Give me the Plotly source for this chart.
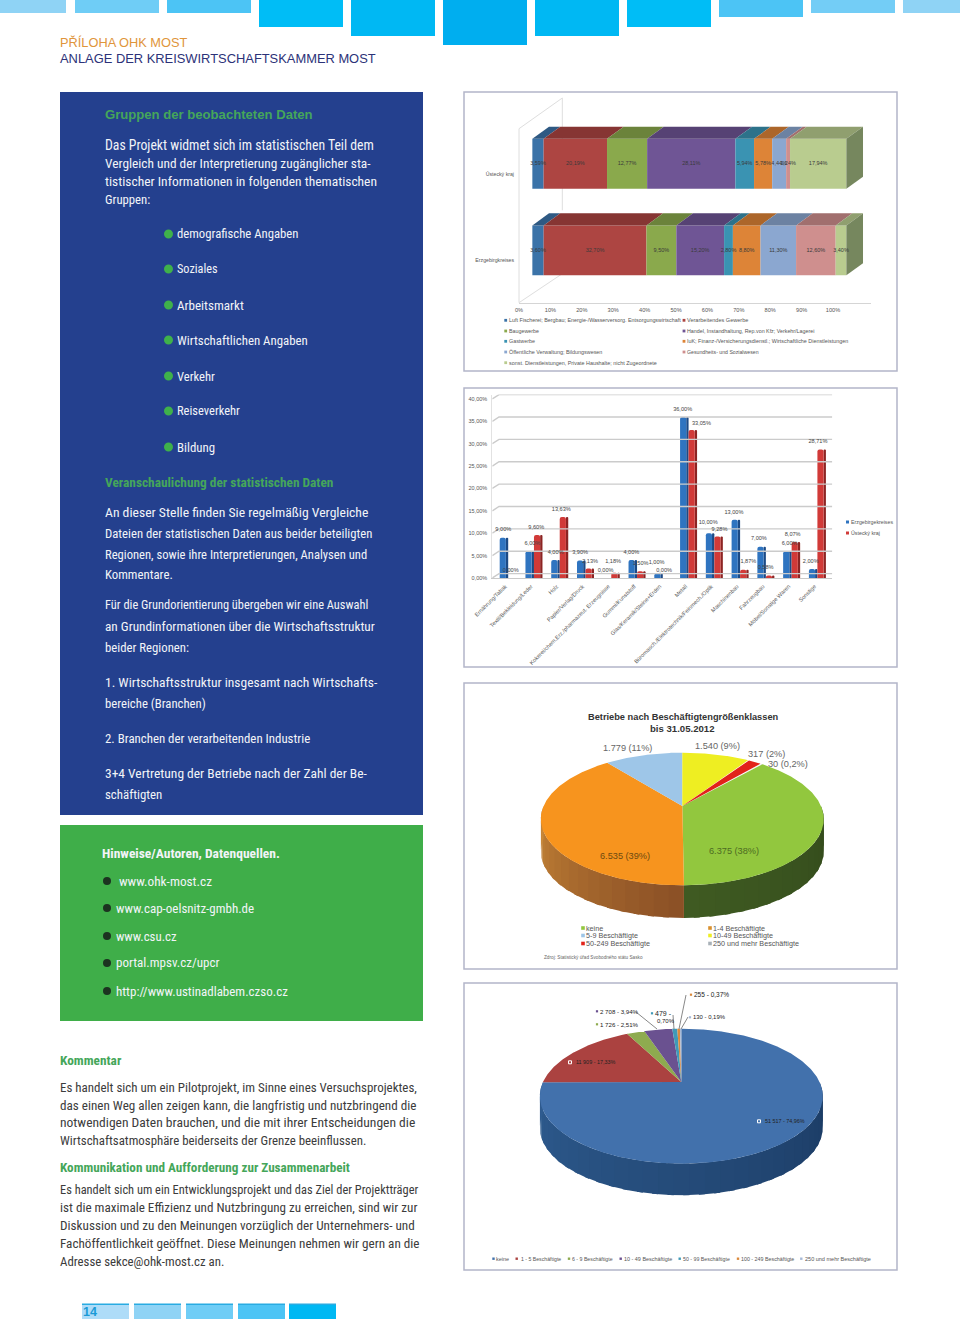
"""Seite 14: Anlage der Kreiswirtschaftskammer Most, Text und vier Diagramme"""

import numpy as np
import plotly.graph_objects as go

W, H = 960, 1320

# ── Daten ─────────────────────────────────────────────────────────────

BRANCHEN = [
    "Luft Fischerei; Bergbau; Energie-/Wasserversorg. Entsorgungswirtschaft",
    "Verarbeitendes Gewerbe",
    "Baugewerbe",
    "Handel, Instandhaltung, Rep.von Kfz; Verkehr/Lagerei",
    "Gastwerbe",
    "IuK; Finanz-/Versicherungsdienstl.; Wirtschaftliche Dienstleistungen",
    "Öffentliche Verwaltung; Bildungswesen",
    "Gesundheits- und Sozialwesen",
    "sonst. Dienstleistungen, Private Haushalte; nicht Zugeordnete",
]
BRANCHEN_FARBEN = ["#3b73a8", "#ad4542", "#8aa94c", "#6f5595", "#3a93b2",
                   "#dd8437", "#8ba7d0", "#cf8f8e", "#b9cc8f"]
USTI_BRANCHEN = [3.59, 20.19, 12.77, 28.11, 5.94, 5.78, 4.44, 1.24, 17.94]
ERZ_BRANCHEN = [3.60, 32.70, 9.50, 15.20, 2.80, 8.80, 11.30, 12.60, 3.40]
ZEILEN = ["Erzgebirgkreises", "Ústecký kraj"]
ACHSE_PROZENT = [0, 10, 20, 30, 40, 50, 60, 70, 80, 90, 100]

INDUSTRIE = [
    "Ernährung/Tabak", "Textil/Bekleidung/Leder", "Holz", "Papier/Verlag/Druck",
    "Kokerei/chem.Erz./pharmazeut. Erzeugnisse", "Gummi/Kunststoff",
    "Glas/Keramik/Steine+Erden", "Metall",
    "Büromasch./Elektrotechnik/Feinmech./Optik", "Maschinenbau", "Fahrzeugbau",
    "Möbel/Sonstige Waren", "Sonstige",
]
ERZ_INDUSTRIE = [9.00, 6.00, 4.00, 3.90, 0.00, 4.00, 1.00, 36.00, 10.00, 13.00, 7.00, 6.00, 2.00]
USTI_INDUSTRIE = [0.00, 9.60, 13.63, 2.13, 1.18, 1.50, 0.00, 33.05, 9.28, 1.87, 0.58, 8.07, 28.71]
ACHSE_INDUSTRIE = [0, 5, 10, 15, 20, 25, 30, 35, 40]

KLASSEN_SN = ["keine", "1-4 Beschäftigte", "5-9 Beschäftigte", "10-49 Beschäftigte",
              "50-249 Beschäftigte", "250 und mehr Beschäftigte"]
BETRIEBE_SN = [6375, 6535, 1779, 1540, 317, 30]
ANTEIL_SN = ["38%", "39%", "11%", "9%", "2%", "0,2%"]
FARBEN_SN = ["#92c73e", "#f7941e", "#9ec6e8", "#eeee22", "#e2231a", "#a9b1b8"]

KLASSEN_UK = ["keine", "1 - 5 Beschäftigte", "6 - 9 Beschäftigte", "10 - 49 Beschäftigte",
              "50 - 99 Beschäftigte", "100 - 249 Beschäftigte", "250 und mehr Beschäftigte"]
BETRIEBE_UK = [51517, 11909, 1726, 2708, 479, 255, 130]
ANTEIL_UK = ["74,96%", "17,33%", "2,51%", "3,94%", "0,70%", "0,37%", "0,19%"]
FARBEN_UK = ["#4271ac", "#ab4240", "#8eab4f", "#6a5190", "#3f9ab8", "#dc8a3c", "#a5b8d6"]

# ── Hilfsfunktionen ───────────────────────────────────────────────────

NARROW = "Roboto Condensed, DejaVu Sans Condensed, Roboto"
SANS = "Liberation Sans"
WEISS = "#f2f4f8"

EM = dict(zip("abcdefghijklmnopqrstuvwxyz",
              [556, 556, 500, 556, 556, 278, 556, 556, 222, 222, 500, 222, 833,
               556, 556, 556, 556, 333, 500, 278, 556, 500, 722, 500, 500, 500]))
EM.update(zip("ABCDEFGHIJKLMNOPQRSTUVWXYZ",
              [667, 667, 722, 722, 667, 611, 778, 722, 278, 500, 667, 556, 833,
               722, 778, 667, 778, 722, 667, 611, 722, 667, 944, 667, 667, 611]))
EM.update({" ": 278, ".": 278, ",": 278, ":": 278, ";": 278, "-": 333, "/": 278, "ä": 556,
           "ö": 556, "ü": 556, "ß": 611, "Ö": 778, "Ü": 722, "Ú": 722, "(": 333, ")": 333,
           "ý": 500, "Ř": 722, "Í": 278, "ř": 333, "ú": 556, "á": 556, "é": 556, "@": 1015})

shapes, annotations, traces, axes = [], [], [], {}


def fx(x):
    return x / W


def fy(y):
    return 1 - y / H


def rect(x0, y0, x1, y1, color, line=None, width=0):
    shapes.append(dict(type="rect", xref="paper", yref="paper", layer="below",
                       x0=fx(x0), x1=fx(x1), y0=fy(y1), y1=fy(y0), fillcolor=color,
                       line=dict(color=line, width=width)))


def segment(x0, y0, x1, y1, color, width=1.0, layer="below"):
    shapes.append(dict(type="line", xref="paper", yref="paper", layer=layer,
                       x0=fx(x0), x1=fx(x1), y0=fy(y0), y1=fy(y1),
                       line=dict(color=color, width=width)))


def punkt(x, y, r, color):
    shapes.append(dict(type="circle", xref="paper", yref="paper", layer="above",
                       x0=fx(x - r), x1=fx(x + r), y0=fy(y + r), y1=fy(y - r),
                       fillcolor=color, line=dict(width=0)))


def swatch(x, y, s, color, line=None):
    shapes.append(dict(type="rect", xref="paper", yref="paper", layer="above",
                       x0=fx(x - s), x1=fx(x + s), y0=fy(y + s), y1=fy(y - s),
                       fillcolor=color, line=dict(color=line, width=1 if line else 0)))


def txt(s, x, y, size, color, family=SANS, weight=400, anchor="left"):
    annotations.append(dict(text=s, x=fx(x), y=fy(y), xref="paper", yref="paper",
                            xanchor=anchor, yanchor="middle", showarrow=False,
                            borderpad=0, borderwidth=0,
                            font=dict(size=size, color=color, family=family, weight=weight)))


def fit(s, x0, x1, y, color, family=NARROW, weight=400, factor=0.885):
    """Schriftgröße so wählen, dass die Zeile die Breite x0..x1 füllt"""
    em = sum(EM.get(c, 556) for c in s) / 1000 * factor
    txt(s, x0, y, round((x1 - x0) / em, 2), color, family, weight)


def achsen(n, px_x, px_y, xopts=None, yopts=None):
    base = dict(showgrid=False, zeroline=False, showticklabels=False, ticks="")
    axes[f"xaxis{n}"] = dict(base, domain=[fx(px_x[0]), fx(px_x[1])], anchor=f"y{n}", **(xopts or {}))
    axes[f"yaxis{n}"] = dict(base, domain=[fy(px_y[1]), fy(px_y[0])], anchor=f"x{n}", **(yopts or {}))


def flaeche(n, xs, ys, color):
    traces.append(go.Scatter(x=xs, y=ys, mode="lines", fill="toself", fillcolor=color,
                             line=dict(width=0), hoverinfo="skip", showlegend=False,
                             xaxis=f"x{n}", yaxis=f"y{n}"))


def dunkler(color, f):
    rgb = [int(color[i:i + 2], 16) for i in (1, 3, 5)]
    return "#%02x%02x%02x" % tuple(int(c * f) for c in rgb)


def mischen(a, b, t):
    ra = np.array([int(a[i:i + 2], 16) for i in (1, 3, 5)])
    rb = np.array([int(b[i:i + 2], 16) for i in (1, 3, 5)])
    return "#%02x%02x%02x" % tuple(int(c) for c in ra + (rb - ra) * t)


def prozent(v):
    return f"{v:.2f}%".replace(".", ",")


def projekt(theta_deg, k):
    """Kreispunkt in die perspektivische Tortenebene abbilden"""
    t = np.radians(theta_deg)
    s = 1 / (1 + k * np.cos(t))
    return np.sin(t) * s, np.cos(t) * s


def torte(n, werte, farben, k, tiefe, start, seite):
    """3D-Torte aus Flächen; seite: Farbpaare je Segment für den sichtbaren Rand"""
    kanten = start + np.concatenate([[0], np.cumsum(werte)]) / sum(werte) * 360
    for a, b, paar in zip(kanten[:-1], kanten[1:], seite):
        # sichtbarer Rand liegt zwischen 90 und 270 Grad
        lo, hi = max(a, 90), min(b, 270)
        if paar is None or hi <= lo:
            continue
        schritte = np.linspace(lo, hi, max(2, int((hi - lo) / 5) + 1))
        for i, (t0, t1) in enumerate(zip(schritte[:-1], schritte[1:])):
            # Streifen überlappen, damit keine Nähte sichtbar sind
            th = np.linspace(t0, min(t1 + 2, hi), 5)
            x, y = projekt(th, k)
            flaeche(n, np.r_[x, x[::-1]], np.r_[y, y[::-1] - tiefe],
                    mischen(paar[0], paar[1], i / max(1, len(schritte) - 2)))
    for a, b, c in zip(kanten[:-1], kanten[1:], farben):
        th = np.arange(a, b + 0.5, 0.5)
        x, y = projekt(np.r_[th, b], k)
        flaeche(n, np.r_[0, x, 0], np.r_[0, y, 0], c)


# ── Seitenrahmen ──────────────────────────────────────────────────────

KOPF_X = [(0, 66), (75, 159), (167, 251), (259, 343), (351, 435), (443, 527),
          (535, 619), (627, 711), (719, 803), (811, 895), (903, 960)]
KOPF_H = [13, 13, 13, 27, 36, 45, 36, 27, 17, 13, 13]
KOPF_F = ["#8fd3f5", "#6fcdf6", "#4cc4f5", "#00bdf6", "#00b8f3", "#00aeef",
          "#00b8f3", "#00bdf6", "#4cc4f5", "#73cdf6", "#8fd3f5"]
for (a, b), h, c in zip(KOPF_X, KOPF_H, KOPF_F):
    rect(a, 0, b, h, c)

for (a, b), c in zip([(82, 129), (134, 181), (186, 233), (238, 285), (289, 336)],
                     ["#aedcf8", "#8fd3f5", "#6fcdf6", "#4cc4f5", "#00b8f3"]):
    rect(a, 1304, b, 1319, c)
    rect(a, 1303.5, b, 1305, "#29abe2")
txt("14", 83, 1312, 12.5, "#1b9ad6", SANS, 700)

fit("PŘÍLOHA OHK MOST", 60, 188, 42, "#e0953b", SANS, factor=1.0)
fit("ANLAGE DER KREISWIRTSCHAFTSKAMMER MOST", 60, 376, 58, "#2c3278", SANS, factor=1.0)

rect(60, 92, 423, 815, "#24408e")
rect(60, 825, 423, 1021, "#3fae49")

for oben, unten in [(92, 371), (388, 667), (683, 969), (983, 1270)]:
    rect(464, oben, 897, unten, "#ffffff", "#b3b5c9", 1.5)

# ── Text links ────────────────────────────────────────────────────────

GRUEN = "#45a65a"
fit("Gruppen der beobachteten Daten", 105, 312, 114, GRUEN, SANS, 700, 1.06)
for s, y, x1 in [("Das Projekt widmet sich im statistischen Teil dem", 145, 371),
                 ("Vergleich und der Interpretierung zugänglicher sta-", 163, 371),
                 ("tistischer Informationen in folgenden thematischen", 181, 371),
                 ("Gruppen:", 199, 152),
                 ("An dieser Stelle finden Sie regelmäßig Vergleiche", 512, 371),
                 ("Dateien der statistischen Daten aus beider beteiligten", 533, 371),
                 ("Regionen, sowie ihre Interpretierungen, Analysen und", 554, 371),
                 ("Kommentare.", 575, 173),
                 ("Für die Grundorientierung übergeben wir eine Auswahl", 605, 371),
                 ("an Grundinformationen über die Wirtschaftsstruktur", 626, 371),
                 ("beider Regionen:", 647, 191),
                 ("1. Wirtschaftsstruktur insgesamt nach Wirtschafts-", 682, 371),
                 ("bereiche (Branchen)", 703, 207),
                 ("2. Branchen der verarbeitenden Industrie", 738, 312),
                 ("3+4 Vertretung der Betriebe nach der Zahl der Be-", 773, 371),
                 ("schäftigten", 794, 160)]:
    fit(s, 105, x1, y, WEISS)
fit("Veranschaulichung der statistischen Daten", 105, 329, 482, GRUEN, NARROW, 700)

for s, y, x1 in [("demografische Angaben", 234, 299), ("Soziales", 269, 218),
                 ("Arbeitsmarkt", 305, 242), ("Wirtschaftlichen Angaben", 340, 306),
                 ("Verkehr", 376, 216), ("Reiseverkehr", 411, 242), ("Bildung", 447, 215)]:
    punkt(168.5, y, 4.5, "#3fb14b")
    fit(s, 177, x1, y, WEISS)

fit("Hinweise/Autoren, Datenquellen.", 102, 276, 853, WEISS, NARROW, 700)
for s, y, x0, x1 in [("www.ohk-most.cz", 881, 119, 211),
                     ("www.cap-oelsnitz-gmbh.de", 908, 116, 254),
                     ("www.csu.cz", 936, 116, 176),
                     ("portal.mpsv.cz/upcr", 963, 116, 216),
                     ("http://www.ustinadlabem.czso.cz", 991, 116, 283)]:
    punkt(107, y, 4, "#1c3320")
    fit(s, x0, x1, y, WEISS)

GRAU = "#3c3c3c"
fit("Kommentar", 60, 121, 1060, GRUEN, NARROW, 700)
fit("Kommunikation und Aufforderung zur Zusammenarbeit", 60, 344, 1167, GRUEN, NARROW, 700)
for s, y, x1 in [("Es handelt sich um ein Pilotprojekt, im Sinne eines Versuchsprojektes,", 1087, 418),
                 ("das einen Weg allen zeigen kann, die langfristig und nutzbringend die", 1105, 418),
                 ("notwendigen Daten brauchen, und die mit ihrer Entscheidungen die", 1122, 418),
                 ("Wirtschaftsatmosphäre beiderseits der Grenze beeinflussen.", 1140, 365),
                 ("Es handelt sich um ein Entwicklungsprojekt und das Ziel der Projektträger", 1189, 418),
                 ("ist die maximale Effizienz und Nutzbringung zu erreichen, sind wir zur", 1207, 418),
                 ("Diskussion und zu den Meinungen vorzüglich der Unternehmers- und", 1225, 418),
                 ("Fachöffentlichkeit geöffnet. Diese Meinungen nehmen wir gern an die", 1243, 418),
                 ("Adresse sekce@ohk-most.cz an.", 1261, 226)]:
    fit(s, 60, x1, y, GRAU)

# ── Diagramm 1: gestapelte Balken ─────────────────────────────────────

KLEIN = "#555555"
achsen(1, (519, 870.7), (95, 302.7),
       dict(range=[0, 112], showline=True, linecolor="#d5d5d5", linewidth=1, showticklabels=True,
            tickmode="array", tickvals=ACHSE_PROZENT, ticktext=[f"{t}%" for t in ACHSE_PROZENT],
            ticklabelstandoff=2, tickfont=dict(size=5.6, color=KLEIN, family=SANS)),
       dict(range=[-0.49, 1.91], showticklabels=True, tickmode="array", tickvals=[0, 1], ticktext=ZEILEN,
            ticklabelstandoff=4, tickfont=dict(size=5.2, color=KLEIN, family=SANS)))

for a, b, c, d in [(519, 302.7, 519, 128.7), (519, 128.7, 562.3, 98), (562.3, 98, 562.3, 210.3),
                   (519, 302.7, 562.3, 273.7)]:
    segment(a, b, c, d, "#dedede", 1)

DX, DY, VX, VY, DICKE = 5.3, 0.139, 4.25, 0.115, 0.577
for zeile, werte in enumerate([ERZ_BRANCHEN, USTI_BRANCHEN]):
    anteile = np.array(werte) / sum(werte) * 100
    starts = VX + np.concatenate([[0], np.cumsum(anteile)[:-1]])
    mitte = zeile + VY
    oben = mitte + DICKE / 2
    for s, a, c in zip(starts, anteile, BRANCHEN_FARBEN):
        flaeche(1, [s, s + a, s + a + DX, s + DX], [oben, oben, oben + DY, oben + DY], dunkler(c, 0.78))
    ende = starts[-1] + anteile[-1]
    flaeche(1, [ende, ende + DX, ende + DX, ende], [oben, oben + DY, oben + DY - DICKE, oben - DICKE],
            "#76875e")
    for s, a, c in zip(starts, anteile, BRANCHEN_FARBEN):
        traces.append(go.Bar(x=[a], y=[mitte], base=[s], width=DICKE, orientation="h", marker_color=c,
                             marker_line_width=0, showlegend=False, xaxis="x1", yaxis="y1"))
    traces.append(go.Scatter(x=starts + anteile / 2, y=[mitte] * len(werte), mode="text",
                             text=[prozent(v) for v in werte], showlegend=False,
                             textfont=dict(size=5.5, color="#3a3a3a", family=SANS),
                             xaxis="x1", yaxis="y1"))

LEGENDE_1 = [(505.7, 320.3, 509, 681), (684, 320.3, 687.3, 749), (505.7, 331, 509, 539),
             (684, 331, 687.3, 815), (505.7, 341.3, 509, 535), (684, 341.3, 687.3, 849),
             (505.7, 352, 509, 603), (684, 352, 687.3, 759), (505.7, 362.7, 509, 657)]
for s, c, (mx, y, x0, x1) in zip(BRANCHEN, BRANCHEN_FARBEN, LEGENDE_1):
    swatch(mx, y, 1.4, c)
    fit(s, x0, x1, y, KLEIN, SANS, factor=1.0)

# ── Diagramm 2: Säulen nach Branchen ──────────────────────────────────

PX_PRO_PROZENT = 4.475
achsen(2, (492.3, 832.3), (578 - 41 * PX_PRO_PROZENT, 578),
       dict(range=[-0.617, 12.578], showline=True, linecolor="#c9c9c9", linewidth=1, showticklabels=True,
            tickmode="array", tickvals=list(range(len(INDUSTRIE))), ticktext=INDUSTRIE, tickangle=-45,
            ticklabelstandoff=2, ticklabelshift=-3, tickfont=dict(size=5.6, color=KLEIN, family=SANS)),
       dict(range=[0, 41], showticklabels=True, tickmode="array", tickvals=ACHSE_INDUSTRIE,
            ticktext=[prozent(t) for t in ACHSE_INDUSTRIE], showline=True, linecolor="#e2e2e2", linewidth=1,
            ticklabelstandoff=3, tickfont=dict(size=5.5, color=KLEIN, family=SANS)))

gx, gy = [], []
for t in ACHSE_INDUSTRIE:
    gx += [-0.617, -0.357, 12.578, None]
    gy += [t, t + 0.97, t + 0.97, None]
traces.append(go.Scatter(x=gx, y=gy, mode="lines", line=dict(color="#cbcbcb", width=1.4),
                         hoverinfo="skip", showlegend=False, xaxis="x2", yaxis="y2"))

# Lage der Wertebeschriftung relativ zum Säulenkopf (Kategorien, Prozentpunkte)
VERSATZ_ERZ = [(-.19, 1.73), (-.06, 1.6), (-.16, 1.59), (-.21, 1.69), (-.22, 1.64), (-.22, 1.59), (-.24, 2.5),
               (-.23, 1.54), (-.24, 2.37), (-.24, 1.67), (-.27, 1.79), (-.08, 1.67), (-.26, 1.58)]
VERSATZ_USTI = [(.1, 1.64), (.09, 1.72), (.06, 1.64), (.18, 1.59), (.07, 2.4), (.14, 1.7), (.05, 1.64),
                (.5, 1.36), (.2, 1.52), (.32, 1.71), (-.01, 1.65), (.04, 1.61), (.02, 1.68)]

kat = list(range(len(INDUSTRIE)))
for werte, off, hell, dunkel, versatz in [(ERZ_INDUSTRIE, -0.33, "#2f74c0", "#1c4a85", VERSATZ_ERZ),
                                          (USTI_INDUSTRIE, 0.0, "#d13a38", "#8c2423", VERSATZ_USTI)]:
    traces.append(go.Bar(x=kat, y=werte, offset=off + 0.24, width=0.09, marker_color=dunkel,
                         marker_line_width=0, marker_cornerradius=1,
                         showlegend=False, xaxis="x2", yaxis="y2"))
    traces.append(go.Bar(x=kat, y=werte, offset=off, width=0.24, marker_color=hell,
                         marker_line_width=0, marker_cornerradius=2,
                         showlegend=False, xaxis="x2", yaxis="y2"))
    traces.append(go.Scatter(x=[k + d[0] for k, d in zip(kat, versatz)],
                             y=[v + d[1] for v, d in zip(werte, versatz)],
                             mode="text", textposition="middle center", text=[prozent(v) for v in werte],
                             showlegend=False, textfont=dict(size=5.6, color="#444444", family=SANS),
                             xaxis="x2", yaxis="y2"))

swatch(847.5, 522, 1.5, "#2f74c0")
swatch(847.5, 533, 1.5, "#d13a38")
fit("Erzgebirgekreises", 851, 893, 522, KLEIN, SANS, factor=1.0)
fit("Ústecký kraj", 851, 880, 533, KLEIN, SANS, factor=1.0)

# ── Diagramm 3: Torte Sachsen ─────────────────────────────────────────

cx, yc, rx, ry = 682.3, 806, 138.7, 63.8
achsen(3, (cx - 1.05 * rx, cx + 1.05 * rx), (yc - ry, yc + 1.8 * ry),
       dict(range=[-1.05, 1.05]), dict(range=[-1.8, 1.0]))
torte(3, BETRIEBE_SN, FARBEN_SN, 0.196, 0.51, 41,
      [("#334a1c", "#3f5a22"), ("#8c5126", "#c98838"), None, None, None, None])

fit("Betriebe nach Beschäftigtengrößenklassen", 588, 777, 717, "#333333", SANS, 700, 1.07)
txt("bis 31.05.2012", 682, 728, 9.6, "#333333", SANS, 700, "center")
for w, a, x, y, c in zip(BETRIEBE_SN, ANTEIL_SN, [734, 625, 627, 717, 766, 788],
                         [851, 856, 748, 746, 754, 764],
                         ["#4d6b22", "#6e4a10", "#666666", "#666666", "#666666", "#666666"]):
    txt(f"{w:,}".replace(",", ".") + f" ({a})", x, y, 9.2, c, SANS, 400, "center")

LEGENDE_3 = [(583, 928), (710, 928), (583, 935.5), (710, 935.5), (583, 943.5), (710, 943.5)]
for s, c, (mx, y) in zip(KLASSEN_SN, FARBEN_SN, LEGENDE_3):
    swatch(mx, y, 1.8, c if c != "#f7941e" else "#d9902e")
    txt(s, mx + 3, y, 7.2, "#555555")
txt("Zdroj: Statistický úřad Svobodného státu Sasko", 544, 958, 4.7, "#666666")

# ── Diagramm 4: Torte Ústecký kraj ────────────────────────────────────

cx, yc, rx, ry = 681.3, 1082, 138.3, 64.5
achsen(4, (cx - 1.05 * rx, cx + 1.05 * rx), (yc - ry, yc + 1.8 * ry),
       dict(range=[-1.05, 1.05]), dict(range=[-1.8, 1.0]))
torte(4, BETRIEBE_UK, FARBEN_UK, 0.21, 0.49, 0,
      [("#1b3a63", "#2f5c90"), None, None, None, None, None, None])

for a, b, c, d in [(636, 1012, 657, 1029), (673, 1015, 674, 1029), (686, 995, 679, 1029),
                   (688, 1017, 681, 1029)]:
    segment(a, b, c, d, "#555555", 0.7, "above")

DUNKEL = "#222222"


def etikett(i, x0, x1, y, leer=False):
    s = f"{BETRIEBE_UK[i]:,}".replace(",", " ") + " - " + ANTEIL_UK[i]
    swatch(x0 - 6 if leer else x0 - 3, y, 1.5 if leer else 1.1, FARBEN_UK[i], "#ffffff" if leer else None)
    fit(s, x0, x1, y, DUNKEL, SANS, factor=1.0)


etikett(0, 765, 803, 1121.3, True)
etikett(1, 576, 614, 1062.3, True)
etikett(2, 600, 636, 1024.3)
etikett(3, 600, 636, 1011.3)
etikett(5, 694, 727, 994.7)
etikett(6, 693, 723, 1017.3)
swatch(652, 1013.3, 1.1, FARBEN_UK[4])
fit("479 -", 655, 671, 1013.3, DUNKEL, SANS, factor=1.0)
fit(ANTEIL_UK[4], 657, 672, 1021.3, DUNKEL, SANS, factor=1.0)

LEGENDE_4 = [(493.5, 496, 509), (516.7, 520.7, 561), (569, 572.3, 613), (620.7, 624, 672.3),
             (679.7, 683, 730), (738, 741.3, 794.7), (801.3, 804.7, 870.7)]
for s, c, (mx, x0, x1) in zip(KLASSEN_UK, FARBEN_UK, LEGENDE_4):
    swatch(mx, 1258.7, 1.2, c)
    fit(s, x0, x1, 1258.7, KLEIN, SANS, factor=1.0)

# ── Figur ─────────────────────────────────────────────────────────────

fig = go.Figure(data=traces)
fig.update_layout(
    width=W, height=H, margin=dict(l=0, r=0, t=0, b=0, autoexpand=False),
    paper_bgcolor="#ffffff", plot_bgcolor="rgba(0,0,0,0)", barmode="overlay",
    showlegend=False, shapes=shapes, annotations=annotations, **axes,
)
fig.write_html("out.html", config={"displayModeBar": False},
               post_script="document.body.style.margin='0';")
